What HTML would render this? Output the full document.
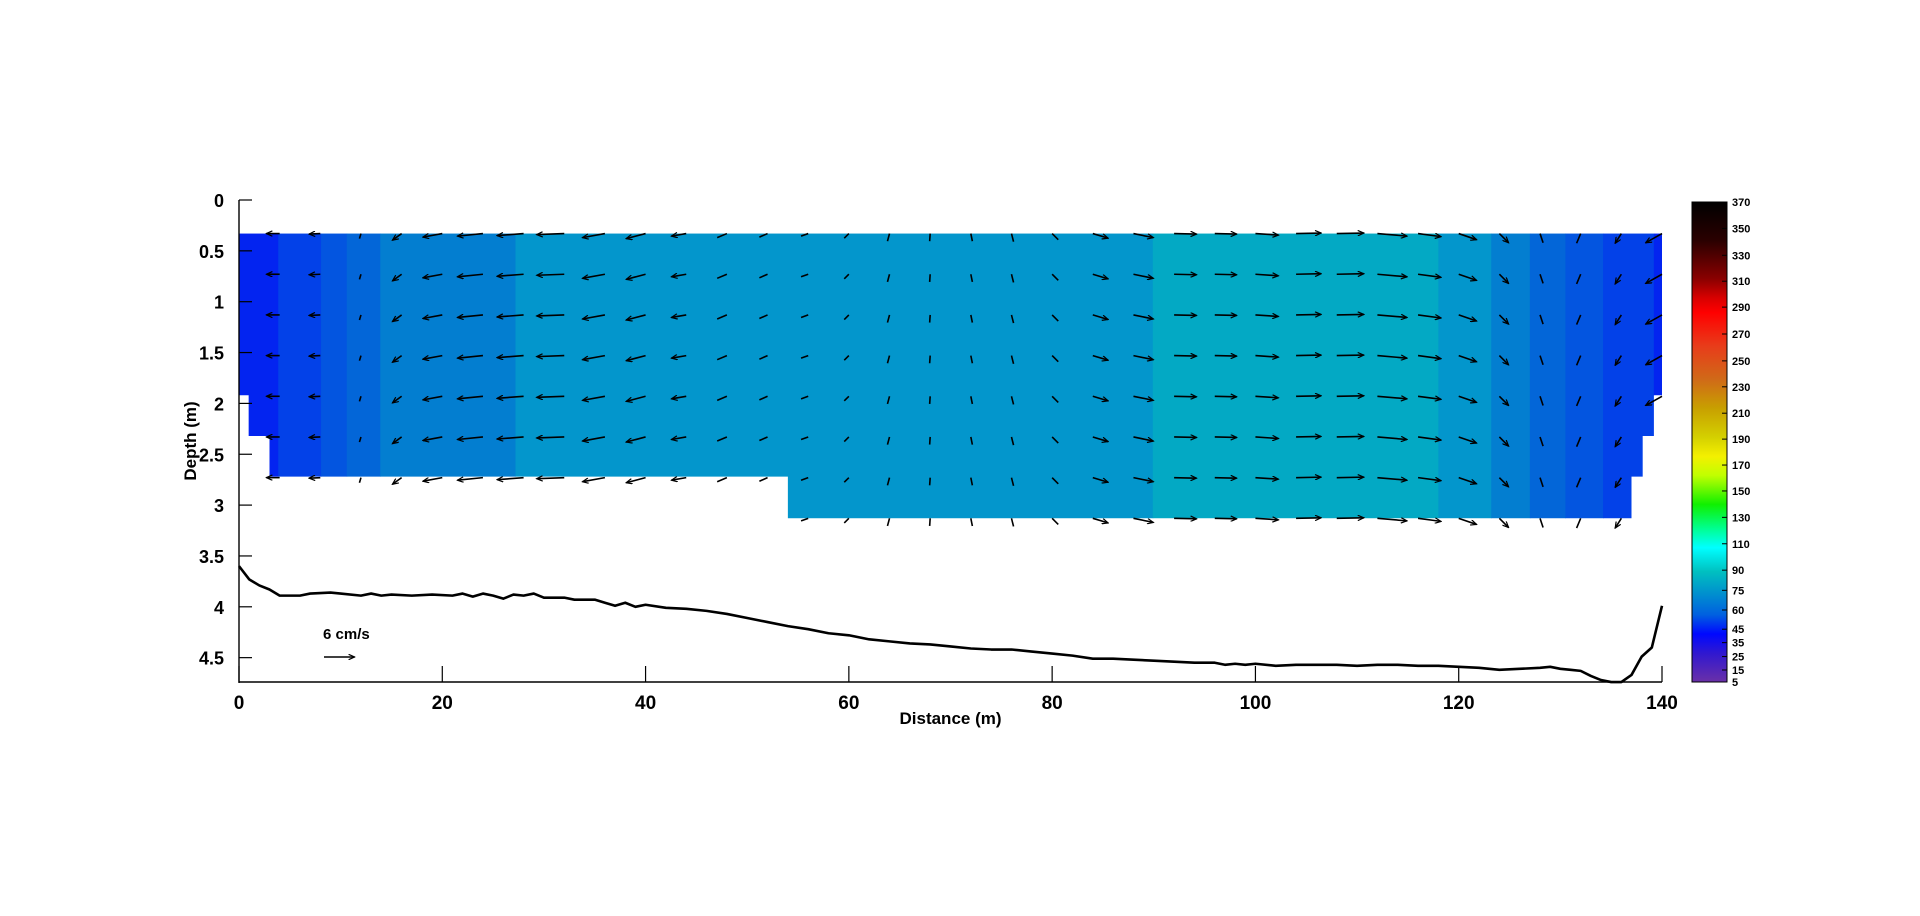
<!DOCTYPE html>
<html><head><meta charset="utf-8">
<style>
html,body{margin:0;padding:0;background:#fff;width:1920px;height:916px;overflow:hidden;}
svg{display:block;font-family:"Liberation Sans",Arial,sans-serif;font-weight:bold;}
</style></head>
<body>
<svg id="chart" width="1920" height="916" viewBox="0 0 1920 916" xmlns="http://www.w3.org/2000/svg">
  <defs>
    <clipPath id="waterClip"><path id="clipPath" d=""/></clipPath>
    <marker id="ah" viewBox="0 0 10 10" refX="10" refY="5" markerUnits="userSpaceOnUse" markerWidth="8" markerHeight="6" orient="auto"><path d="M0,0.5 L10,5 L0,9.5" fill="none" stroke="#000" stroke-width="2"/></marker>
  </defs>
  <g id="cells" clip-path="url(#waterClip)"></g>
  <g id="arrows"></g>
  <g id="bed"></g>
  <g id="axes"></g>
  <g id="cbar"></g>
</svg>
<script>
// ---- data ----
const colEdges = [0, 3.86, 8.07, 10.6, 13.9, 27.2, 89.9, 118, 123.2, 127, 130.5, 134.2, 139.2, 140];
const colValues = [50, 60, 68, 75, 82, 92, 102, 92, 82, 75, 68, 60, 50];
const bottomX = [0, 0.95, 3.0, 54, 137, 138.1, 139.2, 140];
const bottomD = [1.92, 2.32, 2.72, 3.13, 2.72, 2.32, 1.92];
const topDepth = 0.33;
const arrowX = [4,8,12,16,20,24,28,32,36,40,44,48,52,56,60,64,68,72,76,80,84,88,92,96,100,104,108,112,116,120,124,128,132,136,140];
const arrowU = [-2.6,-2.2,-0.3,-1.8,-3.8,-5.0,-5.2,-5.4,-4.4,-3.8,-2.9,-1.9,-1.6,-1.4,-0.9,-0.4,-0.1,0.3,0.4,1.2,3.0,3.9,4.4,4.3,4.5,4.9,5.3,5.8,4.5,3.5,1.8,0.6,-0.8,-1.2,-3.2];
const arrowV = [0,0.1,1.0,1.3,0.7,0.5,0.4,0.2,0.8,1.0,0.5,0.8,0.7,0.5,0.9,1.5,1.5,1.5,1.6,1.2,0.9,0.8,0.1,0.1,0.3,-0.1,-0.1,0.5,0.6,1.2,1.8,1.8,1.9,1.9,1.8];
const rowDepths = [0.33,0.73,1.13,1.53,1.93,2.33,2.73,3.13];
const bedX = [0,1,2,3,4,6,7,9,10,12,13,14,15,17,19,21,22,23,24,25,26,27,28,29,30,32,33,35,36,37,38,39,40,42,44,46,48,50,52,54,56,58,60,62,64,66,68,70,72,74,76,78,80,82,84,86,88,90,92,94,96,97,98,99,100,102,104,106,108,110,112,114,116,118,120,122,124,126,128,129,130,131,132,133,134,135,136,137,138,139,140];
const bedD = [3.6,3.73,3.79,3.83,3.89,3.89,3.87,3.86,3.87,3.89,3.87,3.89,3.88,3.89,3.88,3.89,3.87,3.9,3.87,3.89,3.92,3.88,3.89,3.87,3.91,3.91,3.93,3.93,3.96,3.99,3.96,4.0,3.98,4.01,4.02,4.04,4.07,4.11,4.15,4.19,4.22,4.26,4.28,4.32,4.34,4.36,4.37,4.39,4.41,4.42,4.42,4.44,4.46,4.48,4.51,4.51,4.52,4.53,4.54,4.55,4.55,4.57,4.56,4.57,4.56,4.58,4.57,4.57,4.57,4.58,4.57,4.57,4.58,4.58,4.59,4.6,4.62,4.61,4.6,4.59,4.61,4.62,4.63,4.68,4.72,4.74,4.74,4.67,4.49,4.4,3.99];
const yTicks = [0,0.5,1,1.5,2,2.5,3,3.5,4,4.5];
const xTicks = [0,20,40,60,80,100,120,140];
const cbLabels = ["370","350","330","310","290","270","250","230","210","190","170","150","130","110","90","75","60","45","35","25","15","5"];
const cbLabelFrac = [0,0.055,0.111,0.165,0.219,0.275,0.331,0.385,0.44,0.494,0.548,0.602,0.657,0.712,0.767,0.809,0.85,0.89,0.918,0.947,0.975,1.0];

// ---- scales ----
const X0=239, X1=1662, Y0=200, PPM=101.7, YB=682;
const sx = v => X0 + v*(X1-X0)/140;
const sy = d => Y0 + d*PPM;
const CMS = 5.1;
const palette = {50:'#0324f0',60:'#0341e8',68:'#0355e0',75:'#0366d8',82:'#037ed0',92:'#0396cc',102:'#03a9c4'};
const NS='http://www.w3.org/2000/svg';
function mk(tag, attrs, parent){const e=document.createElementNS(NS,tag);for(const k in attrs)e.setAttribute(k,attrs[k]);parent.appendChild(e);return e;}
function bottomAt(x){for(let i=0;i<bottomD.length;i++){if(x>=bottomX[i]-1e-6 && x<=bottomX[i+1]+1e-6) return bottomD[i];}return 0;}

let d='M'+sx(0)+','+sy(topDepth)+' L'+sx(140)+','+sy(topDepth);
for(let i=bottomD.length-1;i>=0;i--){d+=' L'+sx(bottomX[i+1])+','+sy(bottomD[i])+' L'+sx(bottomX[i])+','+sy(bottomD[i]);}
d+=' Z';
document.getElementById('clipPath').setAttribute('d',d);

const cells=document.getElementById('cells');
for(let i=0;i<colValues.length;i++){
  const r=mk('rect',{x:sx(colEdges[i]),y:sy(topDepth),width:sx(colEdges[i+1])-sx(colEdges[i])+0.5,height:sy(3.13)-sy(topDepth),fill:palette[colValues[i]]},cells);
  
  
}

const ar=document.getElementById('arrows');
for(let i=0;i<arrowX.length;i++){
  for(const rd of rowDepths){
    const b=Math.max(bottomAt(arrowX[i]-0.01),bottomAt(Math.min(arrowX[i]+0.01,140)));
    if(rd>b+0.02) continue;
    const x1=sx(arrowX[i]), y1=sy(rd);
    const x2=x1+arrowU[i]*CMS, y2=y1+arrowV[i]*CMS;
    const len=Math.hypot(x2-x1,y2-y1);
    const a={x1:x1,y1:y1,x2:x2,y2:y2,stroke:'#000','stroke-width':1.6};
    if(len>11) a['marker-end']='url(#ah)';
    const l=mk('line',a,ar);
    
    
  }
}

const bed=document.getElementById('bed');
const pts=bedX.map((x,i)=>sx(x)+','+sy(bedD[i])).join(' ');
const bl=mk('polyline',{points:pts,fill:'none',stroke:'#000','stroke-width':2.6,'stroke-linejoin':'round'},bed);



const ax=document.getElementById('axes');
mk('line',{x1:X0,y1:Y0,x2:X0,y2:YB+1,stroke:'#000','stroke-width':1.4},ax);
mk('line',{x1:X0,y1:YB,x2:X1,y2:YB,stroke:'#000','stroke-width':1.4},ax);
for(const t of yTicks){
  mk('line',{x1:X0,y1:sy(t),x2:X0+13,y2:sy(t),stroke:'#000','stroke-width':1.2},ax);
  const tx=mk('text',{x:X0-15,y:sy(t)+7,'font-size':18,'text-anchor':'end'},ax);
  tx.textContent=t;
  
  
}
for(const t of xTicks){
  mk('line',{x1:sx(t),y1:YB,x2:sx(t),y2:YB-16,stroke:'#000','stroke-width':1.2},ax);
  const tx=mk('text',{x:sx(t),y:YB+27,'font-size':19,'text-anchor':'middle'},ax);
  tx.textContent=t;
  
  
}
const xt=mk('text',{x:sx(70),y:724,'font-size':17,'text-anchor':'middle'},ax);
xt.textContent='Distance (m)';


const yt=mk('text',{x:0,y:0,'font-size':17,'text-anchor':'middle',transform:'translate(196,441) rotate(-90)'},ax);
yt.textContent='Depth (m)';


const st=mk('text',{x:323,y:639,'font-size':15},ax);
st.textContent='6 cm/s';


const sa=mk('line',{x1:324,y1:657,x2:324+6*CMS,y2:657,stroke:'#000','stroke-width':1.4,'marker-end':'url(#ah)'},ax);



const cb=document.getElementById('cbar');
const CBX=1692, CBW=35, CBT=202, CBB=682;
const stops=[[0,'#000000'],[0.08,'#2a0000'],[0.16,'#8a0000'],[0.2,'#d80000'],[0.23,'#ff0000'],[0.3,'#e83c1a'],[0.37,'#d06a18'],[0.43,'#c8a000'],[0.49,'#d4d000'],[0.53,'#f4f000'],[0.57,'#c0ff00'],[0.63,'#10f000'],[0.68,'#00ff90'],[0.72,'#00ffff'],[0.77,'#00c0c0'],[0.81,'#0096cc'],[0.86,'#0060e0'],[0.9,'#0008ff'],[0.94,'#3018d0'],[1,'#6a30a8']];
const gd=mk('linearGradient',{id:'cbg',x1:0,y1:0,x2:0,y2:1},document.querySelector('defs'));
for(const s of stops) mk('stop',{offset:s[0],'stop-color':s[1]},gd);
const cr=mk('rect',{x:CBX,y:CBT,width:CBW,height:CBB-CBT,fill:'url(#cbg)',stroke:'#000','stroke-width':1},cb);


for(let i=0;i<cbLabels.length;i++){
  const y=CBT+cbLabelFrac[i]*(CBB-CBT);
  mk('line',{x1:CBX+CBW-5,y1:y,x2:CBX+CBW,y2:y,stroke:'#000','stroke-width':1},cb);
  const t=mk('text',{x:CBX+CBW+5,y:y+4,'font-size':11},cb);
  t.textContent=cbLabels[i];
  
  
}
</script>
</body></html>
